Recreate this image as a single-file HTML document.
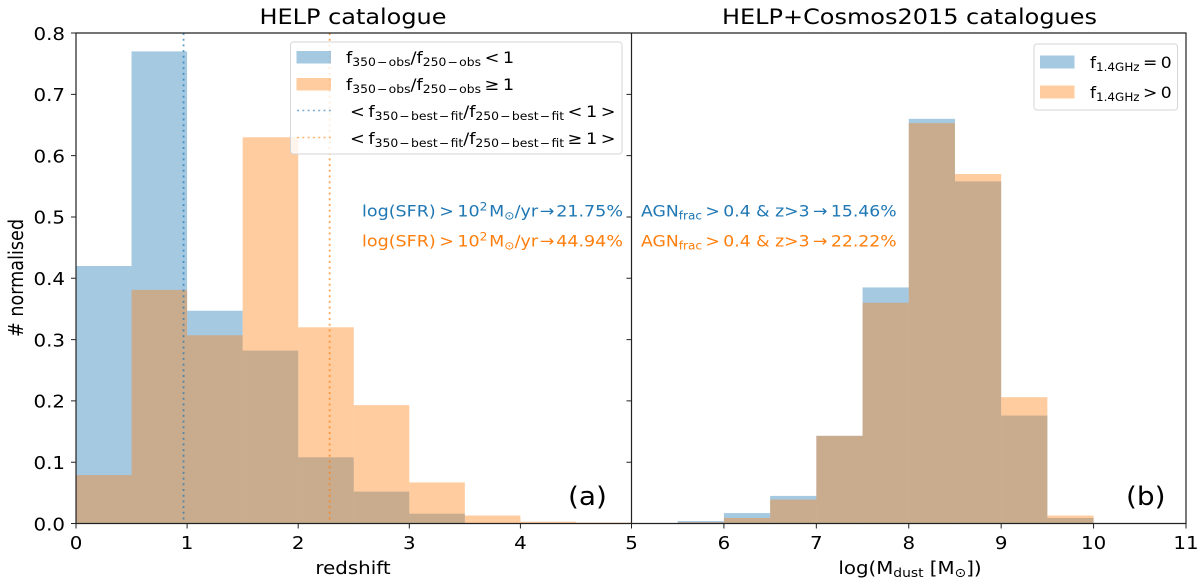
<!DOCTYPE html>
<html>
<head>
<meta charset="utf-8">
<style>
html,body{margin:0;padding:0;background:#fff;}
svg{display:block;}
text{font-family:"DejaVu Sans","Liberation Sans",sans-serif;fill:#000;}
</style>
</head>
<body>
<svg id="chart" xmlns="http://www.w3.org/2000/svg" width="1200" height="585" viewBox="0 0 1200 585">
  <g id="panelA"></g>
  <g id="panelB"></g>
  <g id="axes"></g>

  <text transform="translate(353,24) scale(1.12,1)" font-size="21.4" text-anchor="middle">HELP catalogue</text>
  <text transform="translate(909.5,24) scale(1.12,1)" font-size="21.4" text-anchor="middle">HELP+Cosmos2015 catalogues</text>
  <text transform="translate(353,574) scale(1.1,1)" font-size="18" text-anchor="middle">redshift</text>
  <text transform="translate(910,574) scale(1.1,1)" font-size="18" text-anchor="middle">log(M<tspan font-size="12.6" dy="3">dust</tspan><tspan dy="-3"> [M</tspan><tspan font-size="12.6" dy="3">⊙</tspan><tspan dy="-3">])</tspan></text>
  <text transform="translate(23,278) rotate(-90) scale(1,1.14)" font-size="17.6" text-anchor="middle"># normalised</text>
  <text transform="translate(568,505) scale(1.1,1)" font-size="25.4">(a)</text>
  <text transform="translate(1126,505) scale(1.1,1)" font-size="25.4">(b)</text>

  <text transform="translate(362,216.500) scale(1.095,1)" font-size="16" style="fill:#1f77b4">log(SFR)&#8201;&gt;&#8201;10<tspan font-size="11.2" dy="-6">2</tspan><tspan dy="6">&#8202;M</tspan><tspan font-size="11.2" dy="3">⊙</tspan><tspan dy="-3">/yr&#8202;→&#8202;21.75%</tspan></text>
  <text transform="translate(362,246.500) scale(1.095,1)" font-size="16" style="fill:#ff7f0e">log(SFR)&#8201;&gt;&#8201;10<tspan font-size="11.2" dy="-6">2</tspan><tspan dy="6">&#8202;M</tspan><tspan font-size="11.2" dy="3">⊙</tspan><tspan dy="-3">/yr&#8202;→&#8202;44.94%</tspan></text>
  <text transform="translate(641,216.500) scale(1.078,1)" font-size="16" style="fill:#1f77b4">AGN<tspan font-size="11.2" dy="3">frac</tspan><tspan dy="-3">&#8201;&gt;&#8201;0.4 &amp; z&gt;3&#8201;→&#8201;15.46%</tspan></text>
  <text transform="translate(641,246.500) scale(1.078,1)" font-size="16" style="fill:#ff7f0e">AGN<tspan font-size="11.2" dy="3">frac</tspan><tspan dy="-3">&#8201;&gt;&#8201;0.4 &amp; z&gt;3&#8201;→&#8201;22.22%</tspan></text>

  <g>
    <rect x="290.500" y="42" width="331.500" height="112" rx="3" fill="#fff" fill-opacity="0.8" stroke="#d6d6d6"/>
    <rect x="296.500" y="51" width="34.500" height="12.500" fill="#1f77b4" fill-opacity="0.4"/>
    <rect x="296.500" y="78" width="34.500" height="12.500" fill="#ff7f0e" fill-opacity="0.4"/>
    <line x1="297" x2="331" y1="110.500" y2="110.500" stroke="#1f77b4" stroke-opacity="0.6" stroke-width="1.5" stroke-dasharray="2 3.300"/>
    <line x1="297" x2="331" y1="137.500" y2="137.500" stroke="#ff7f0e" stroke-opacity="0.6" stroke-width="1.5" stroke-dasharray="2 3.300"/>
    <text transform="translate(346,63) scale(1.105,1)" font-size="16">f<tspan font-size="11.2" dy="3">350&#8202;−&#8202;obs</tspan><tspan dy="-3">/f</tspan><tspan font-size="11.2" dy="3">250&#8202;−&#8202;obs</tspan><tspan dy="-3">&#8201;&lt;&#8201;1</tspan></text>
    <text transform="translate(346,90) scale(1.105,1)" font-size="16">f<tspan font-size="11.2" dy="3">350&#8202;−&#8202;obs</tspan><tspan dy="-3">/f</tspan><tspan font-size="11.2" dy="3">250&#8202;−&#8202;obs</tspan><tspan dy="-3">&#8201;≥&#8201;1</tspan></text>
    <text transform="translate(350,117) scale(1.105,1)" font-size="16">&lt;&#8201;f<tspan font-size="11.2" dy="3">350&#8202;−&#8202;best&#8202;−&#8202;fit</tspan><tspan dy="-3">/f</tspan><tspan font-size="11.2" dy="3">250&#8202;−&#8202;best&#8202;−&#8202;fit</tspan><tspan dy="-3">&#8201;&lt;&#8201;1&#8201;&gt;</tspan></text>
    <text transform="translate(350,144) scale(1.105,1)" font-size="16">&lt;&#8201;f<tspan font-size="11.2" dy="3">350&#8202;−&#8202;best&#8202;−&#8202;fit</tspan><tspan dy="-3">/f</tspan><tspan font-size="11.2" dy="3">250&#8202;−&#8202;best&#8202;−&#8202;fit</tspan><tspan dy="-3">&#8201;≥&#8201;1&#8201;&gt;</tspan></text>
  </g>

  <g>
    <rect x="1034" y="44" width="143.500" height="66" rx="3" fill="#fff" fill-opacity="0.8" stroke="#d6d6d6"/>
    <rect x="1040" y="55.500" width="34.500" height="13" fill="#1f77b4" fill-opacity="0.4"/>
    <rect x="1040" y="85.500" width="34.500" height="13" fill="#ff7f0e" fill-opacity="0.4"/>
    <text transform="translate(1090,68) scale(1.07,1)" font-size="16">f<tspan font-size="11.2" dy="3">1.4GHz</tspan><tspan dy="-3">&#8201;=&#8201;0</tspan></text>
    <text transform="translate(1090,98) scale(1.07,1)" font-size="16">f<tspan font-size="11.2" dy="3">1.4GHz</tspan><tspan dy="-3">&#8201;&gt;&#8201;0</tspan></text>
  </g>
</svg>
<script>
const redshiftBins = [0, 0.5, 1, 1.5, 2, 2.5, 3, 3.5, 4, 4.5, 5];
const redshiftBlue = [0.42, 0.77, 0.347, 0.282, 0.108, 0.052, 0.016, 0, 0, 0];
const redshiftOrange = [0.079, 0.381, 0.307, 0.63, 0.32, 0.193, 0.067, 0.013, 0.003, 0.0015];
const meanLineBlue = 0.968;
const meanLineOrange = 2.283;
const dustBins = [5.5, 6, 6.5, 7, 7.5, 8, 8.5, 9, 9.5, 10];
const dustBlue = [0.004, 0.017, 0.045, 0.143, 0.385, 0.66, 0.558, 0.176, 0.009];
const dustOrange = [0.002, 0.009, 0.039, 0.143, 0.36, 0.653, 0.57, 0.206, 0.013];
const yTicks = [0, 0.1, 0.2, 0.3, 0.4, 0.5, 0.6, 0.7, 0.8];
const xTicksA = [0, 1, 2, 3, 4, 5];
const xTicksB = [6, 7, 8, 9, 10, 11];

const NS = 'http://www.w3.org/2000/svg';
const TOP = 33, BOTTOM = 523.5, LEFT = 76, MID = 631.5, RIGHT = 1186;
const yScale = v => BOTTOM - (v / 0.8) * (BOTTOM - TOP);
const xScaleA = v => LEFT + (v / 5) * (MID - LEFT);
const xScaleB = v => MID + ((v - 5) / 6) * (RIGHT - MID);

function node(tag, attrs, parent) {
  const el = document.createElementNS(NS, tag);
  for (const k in attrs) el.setAttribute(k, attrs[k]);
  parent.appendChild(el);
  return el;
}

function drawBars(parent, bins, values, xScale, color) {
  values.forEach((v, i) => {
    const x0 = xScale(bins[i]), x1 = xScale(bins[i + 1]);
    const r = node('rect', {x: x0, y: yScale(v), width: x1 - x0, height: BOTTOM - yScale(v), fill: color, 'fill-opacity': 0.4}, parent);
    
    
  });
}

const panelA = document.getElementById('panelA');
const panelB = document.getElementById('panelB');
const axes = document.getElementById('axes');

drawBars(panelA, redshiftBins, redshiftBlue, xScaleA, '#1f77b4');
drawBars(panelA, redshiftBins, redshiftOrange, xScaleA, '#ff7f0e');
drawBars(panelB, dustBins, dustBlue, xScaleB, '#1f77b4');
drawBars(panelB, dustBins, dustOrange, xScaleB, '#ff7f0e');

[[meanLineBlue, '#1f77b4'], [meanLineOrange, '#ff7f0e']].forEach(([v, c]) => {
  const l = node('line', {x1: xScaleA(v), x2: xScaleA(v), y1: TOP, y2: BOTTOM, stroke: c, 'stroke-opacity': 0.7, 'stroke-width': 1.8, 'stroke-dasharray': '2 3.7'}, panelA);
  
  
});

const frame = node('path', {d: `M${LEFT} ${TOP}H${RIGHT}V${BOTTOM}H${LEFT}Z M${MID} ${TOP}V${BOTTOM}`, fill: 'none', stroke: '#222', 'stroke-width': 1.2}, axes);



yTicks.forEach(v => {
  const y = yScale(v);
  const t = node('path', {d: `M${LEFT - 5} ${y}H${LEFT} M${MID - 5} ${y}H${MID}`, stroke: '#222', 'stroke-width': 1}, axes);
  
  
  const s = node('text', {transform: `translate(${LEFT - 11},${y + 6.8}) scale(1.1,1)`, 'font-size': 18, 'text-anchor': 'end'}, axes);
  
  
  s.textContent = v.toFixed(1);
});

function xTick(x, label) {
  const t = node('line', {x1: x, x2: x, y1: BOTTOM, y2: BOTTOM + 5, stroke: '#222', 'stroke-width': 1}, axes);
  
  
  const s = node('text', {transform: `translate(${x},${BOTTOM + 25.7}) scale(1.1,1)`, 'font-size': 18, 'text-anchor': 'middle'}, axes);
  
  
  s.textContent = label;
}
xTicksA.forEach(v => xTick(xScaleA(v), String(v)));
xTicksB.forEach(v => xTick(xScaleB(v), String(v)));
</script>
</body>
</html>
